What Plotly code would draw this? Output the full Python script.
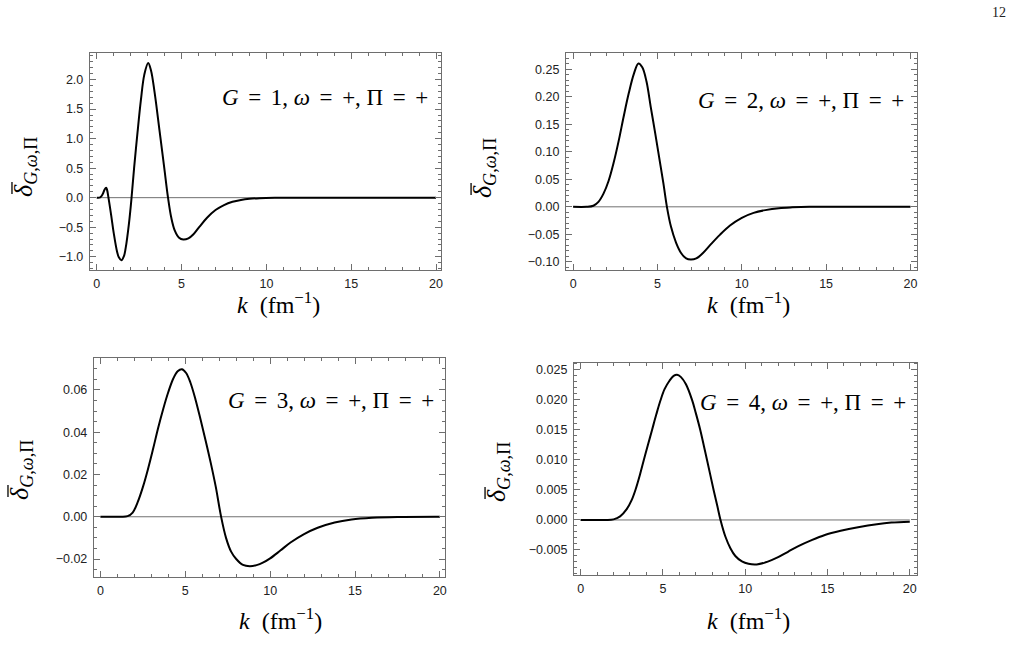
import plotly.graph_objects as go

# ---------------- data ----------------
k1 = [0, 0.2, 0.35, 0.45, 0.55, 0.6, 0.7, 0.85, 1.0, 1.2, 1.3, 1.45, 1.6, 1.7, 1.9, 2.05,
      2.2, 2.4, 2.6, 2.8, 3.03, 3.2, 3.4, 3.54, 3.75, 3.98, 4.2, 4.4, 4.6, 4.85, 5.1, 5.4,
      5.7, 6.06, 6.5, 7.0, 7.5, 8.0, 8.5, 9.0, 9.6, 10.5, 12, 15, 20]
d1 = [0, 0.005, 0.06, 0.13, 0.17, 0.14, -0.02, -0.3, -0.6, -0.92, -1.01, -1.06, -0.99,
      -0.86, -0.43, 0.0, 0.5, 1.1, 1.65, 2.08, 2.28, 2.15, 1.8, 1.5, 1.02, 0.5, 0.0, -0.35,
      -0.56, -0.68, -0.71, -0.69, -0.62, -0.49, -0.34, -0.21, -0.125, -0.07, -0.038, -0.019,
      -0.008, -0.002, 0, 0, 0]

k2 = [0, 0.8, 1.2, 1.5, 1.8, 2.1, 2.4, 2.7, 3.0, 3.3, 3.6, 3.87, 4.1, 4.35, 4.6, 4.85,
      5.1, 5.35, 5.56, 5.8, 6.1, 6.4, 6.7, 6.98, 7.3, 7.7, 8.2, 8.7, 9.3, 10.0, 10.7, 11.4,
      12.2, 13, 14, 16, 20]
d2 = [0, 0, 0.002, 0.009, 0.024, 0.047, 0.08, 0.12, 0.165, 0.207, 0.242, 0.261, 0.254,
      0.228, 0.182, 0.137, 0.09, 0.043, 0.0, -0.036, -0.065, -0.084, -0.094, -0.096, -0.094,
      -0.084, -0.067, -0.051, -0.034, -0.02, -0.011, -0.006, -0.0025, -0.001, 0, 0, 0]

k3 = [0, 1.2, 1.6, 1.9, 2.2, 2.5, 2.8, 3.1, 3.4, 3.7, 4.0, 4.3, 4.55, 4.8, 5.05, 5.3, 5.6,
      5.9, 6.2, 6.5, 6.8, 7.11, 7.4, 7.7, 8.0, 8.4, 8.8, 9.2, 9.6, 10.0, 10.6, 11.2, 12.0,
      12.8, 13.8, 14.8, 16, 17.5, 20]
d3 = [0, 0, 0.0003, 0.002, 0.007, 0.014, 0.0225, 0.032, 0.042, 0.051, 0.059, 0.0655,
      0.0688, 0.0698, 0.068, 0.0635, 0.0555, 0.046, 0.036, 0.0255, 0.014, 0.0, -0.010,
      -0.0165, -0.020, -0.0228, -0.0234, -0.0229, -0.0216, -0.0197, -0.016, -0.0122,
      -0.0082, -0.0052, -0.0027, -0.0013, -0.0005, -0.0001, 0]

k4 = [0, 1.5, 2.0, 2.4, 2.8, 3.1, 3.33, 3.6, 3.84, 4.1, 4.34, 4.6, 4.85, 5.1, 5.4, 5.65,
      5.86, 6.1, 6.4, 6.77, 7.0, 7.27, 7.5, 7.68, 8.08, 8.3, 8.5, 8.8, 9.1, 9.4, 9.8, 10.2,
      10.7, 11.2, 11.6, 12.0, 12.6, 13.2, 14.0, 14.84, 15.8, 16.86, 18.0, 18.88, 20]
d4 = [0, 0, 0.0001, 0.0006, 0.0018, 0.0033, 0.005, 0.0075, 0.01, 0.0126, 0.015, 0.0176,
      0.0199, 0.0218, 0.0232, 0.024, 0.0242, 0.0238, 0.0226, 0.02, 0.0178, 0.015, 0.0122,
      0.010, 0.005, 0.0024, 0.0, -0.0028, -0.0047, -0.006, -0.0069, -0.0073, -0.0074,
      -0.0071, -0.0067, -0.0062, -0.0053, -0.0044, -0.0034, -0.0025, -0.0018, -0.0012,
      -0.0007, -0.00044, -0.0003]

SP = "\u2006"
panel_labels = [f"<i>G</i>{SP} = {SP}{g}, <i>ω</i>{SP} = {SP}+, Π{SP} = {SP}+" for g in (1, 2, 3, 4)]
x_title = "<i>k</i>  (fm<sup>−1</sup>)"
y_title = "<i>δ</i><sub><i>G</i>,<i>ω</i>,Π</sub>"

# ---------------- layout geometry ----------------
W, H = 1017, 666
def fx(p): return p / W
def fy(p): return 1 - p / H

panels = [
    dict(k=k1, d=d1, xd=(90, 442), yd=(53, 270), xr=(-0.41, 20.3), yr=(-1.225, 2.45),
         dtick=0.5, minor=0.1, fmt=".1f", lab=(431, 97), xt=(279, 303), yt=(25, 167)),
    dict(k=k2, d=d2, xd=(567, 919), yd=(53, 270), xr=(-0.43, 20.4), yr=(-0.115, 0.28),
         dtick=0.05, minor=0.01, fmt=".2f", lab=(908, 101), xt=(750, 303), yt=(485, 168)),
    dict(k=k3, d=d3, xd=(94, 446), yd=(358, 577), xr=(-0.39, 20.31), yr=(-0.0285, 0.0751),
         dtick=0.02, minor=0.005, fmt=".2f", lab=(437, 400), xt=(281, 619), yt=(21, 470)),
    dict(k=k4, d=d4, xd=(575, 919), yd=(362.7, 575), xr=(-0.41, 20.45), yr=(-0.00917, 0.0262),
         dtick=0.005, minor=0.001, fmt=".3f", lab=(910, 402), xt=(750, 619), yt=(499, 472)),
]

FRAME = "#6e6e6e"
tickfont = dict(family="Liberation Sans, Arial, sans-serif", size=12.5, color="#222222")
serif = "Liberation Serif, Times New Roman, serif"

fig = go.Figure()
layout = dict(width=W, height=H, margin=dict(l=0, r=0, t=0, b=0),
              paper_bgcolor="white", plot_bgcolor="white", showlegend=False)
annotations = []
shapes = []

for i, p in enumerate(panels):
    n = i + 1
    xa = "x" if n == 1 else f"x{n}"
    ya = "y" if n == 1 else f"y{n}"
    xkey = "xaxis" if n == 1 else f"xaxis{n}"
    ykey = "yaxis" if n == 1 else f"yaxis{n}"

    fig.add_trace(go.Scatter(x=p["k"], y=p["d"], mode="lines", xaxis=xa, yaxis=ya,
                             line=dict(color="black", width=2, shape="spline", smoothing=1.0),
                             hoverinfo="skip"))

    layout[xkey] = dict(domain=[fx(p["xd"][0]), fx(p["xd"][1])], range=list(p["xr"]),
                        anchor=ya, showgrid=False, zeroline=False, showline=True,
                        linecolor=FRAME, linewidth=1, mirror="allticks", ticks="inside",
                        ticklen=6, tickwidth=1, tickcolor=FRAME, tick0=0, dtick=5,
                        tickfont=tickfont, ticklabelstandoff=2,
                        minor=dict(ticks="inside", ticklen=3, tickcolor=FRAME, dtick=1,
                                   tick0=0, showgrid=False))
    layout[ykey] = dict(domain=[fy(p["yd"][1]), fy(p["yd"][0])], range=list(p["yr"]),
                        anchor=xa, showgrid=False, zeroline=False, showline=True,
                        linecolor=FRAME, linewidth=1, mirror="allticks", ticks="inside",
                        ticklen=6, tickwidth=1, tickcolor=FRAME, tick0=0, dtick=p["dtick"],
                        tickformat=p["fmt"], tickfont=tickfont, ticklabelstandoff=3,
                        minor=dict(ticks="inside", ticklen=3, tickcolor=FRAME,
                                   dtick=p["minor"], tick0=0, showgrid=False))

    shapes.append(dict(type="line", xref=xa, yref=ya, x0=0, x1=20, y0=0, y1=0,
                       line=dict(color="#707070", width=1), layer="below"))

    annotations.append(dict(text=panel_labels[i], xref="paper", yref="paper",
                            x=fx(p["lab"][0]), y=fy(p["lab"][1]), xanchor="right",
                            yanchor="middle", showarrow=False,
                            font=dict(family=serif, size=23, color="black")))
    annotations.append(dict(text=x_title, xref="paper", yref="paper",
                            x=fx(p["xt"][0]), y=fy(p["xt"][1]), xanchor="center",
                            yanchor="middle", showarrow=False,
                            font=dict(family=serif, size=24, color="black")))
    cx, cy = p["yt"]
    annotations.append(dict(text=y_title, xref="paper", yref="paper",
                            x=fx(cx), y=fy(cy), xanchor="center",
                            yanchor="middle", showarrow=False, textangle=-90,
                            font=dict(family=serif, size=26, color="black")))
    # the bar over the delta (drawn as a short line beside the rotated glyph)
    shapes.append(dict(type="line", xref="paper", yref="paper",
                       x0=fx(cx - 13), x1=fx(cx - 13), y0=fy(cy + 15), y1=fy(cy + 27),
                       line=dict(color="black", width=1.3)))

annotations.append(dict(text="12", xref="paper", yref="paper", x=fx(1001), y=fy(13),
                        xanchor="center", yanchor="middle", showarrow=False,
                        font=dict(family=serif, size=14, color="#222222")))

layout["annotations"] = annotations
layout["shapes"] = shapes
fig.update_layout(**layout)
fig.write_html("out.html")
